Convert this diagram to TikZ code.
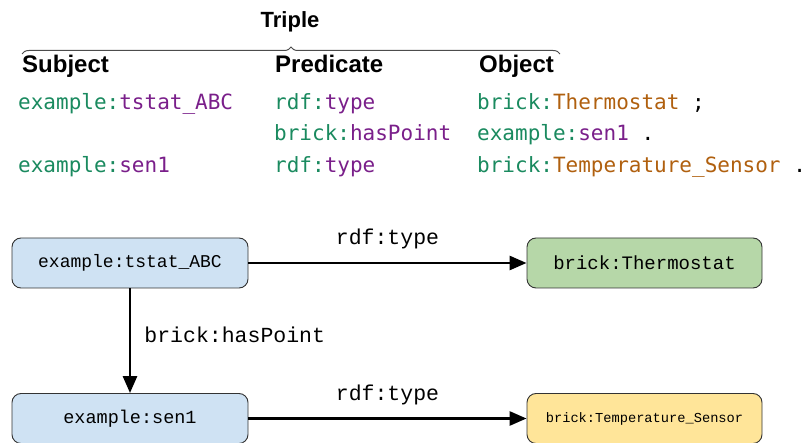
\documentclass[tikz,border=0pt]{standalone}
\usepackage{fontspec}
\setmainfont{Liberation Sans}
\newfontfamily\codefont{DejaVu Sans Mono}
\newfontfamily\courfont{Liberation Mono}
\usetikzlibrary{arrows.meta,decorations.pathreplacing}
\definecolor{cgreen}{HTML}{1A8A5F}
\definecolor{cpurple}{HTML}{7A1F8A}
\definecolor{cbrown}{HTML}{B0600F}
\definecolor{fblue}{HTML}{CFE2F3}
\definecolor{fgreen}{HTML}{B6D7A8}
\definecolor{fyellow}{HTML}{FFE599}
\tikzset{
  hdr/.style={anchor=base west,inner sep=0pt,font=\fontsize{24}{28}\selectfont\bfseries},
  code/.style={anchor=base west,inner sep=0pt,font=\fontsize{21}{24}\selectfont\codefont},
  box/.style={draw=black!80,line width=0.9pt,rounded corners=9pt,minimum width=236pt,minimum height=50pt,inner sep=0pt},
  lbl/.style={inner sep=0pt,font=\fontsize{21.5}{24}\selectfont\courfont},
  conn/.style={line width=2.8pt,-{Triangle[length=17pt,width=14pt]}}
}
\begin{document}
\begin{tikzpicture}[x=1pt,y=-1pt]
\useasboundingbox (0,0) rectangle (806,443);
% brace
\draw[black!70,line width=1pt,decorate,decoration={brace,amplitude=7pt,raise=0pt}] (22,54) -- (560,54);
\node[anchor=base,inner sep=0pt,font=\fontsize{22}{26}\selectfont\bfseries] (trip) at (290,28) {Triple};
\node[hdr] (hs) at (22,73) {Subject};
\node[hdr] (hp) at (275,73) {Predicate};
\node[hdr] (ho) at (479,73) {Object};
% code rows
\node[code] (r1a) at (18,110) {\textcolor{cgreen}{example:}\textcolor{cpurple}{tstat\_ABC}};
\node[code] (r1b) at (274,110) {\textcolor{cgreen}{rdf:}\textcolor{cpurple}{type}};
\node[code] (r1c) at (477,110) {\textcolor{cgreen}{brick:}\textcolor{cbrown}{Thermostat} ;};
\node[code] (r2b) at (274,141) {\textcolor{cgreen}{brick:}\textcolor{cpurple}{hasPoint}};
\node[code] (r2c) at (477,141) {\textcolor{cgreen}{example:}\textcolor{cpurple}{sen1} .};
\node[code] (r3a) at (18,173) {\textcolor{cgreen}{example:}\textcolor{cpurple}{sen1}};
\node[code] (r3b) at (274,173) {\textcolor{cgreen}{rdf:}\textcolor{cpurple}{type}};
\node[code] (r3c) at (477,173) {\textcolor{cgreen}{brick:}\textcolor{cbrown}{Temperature\_Sensor} .};
% graph
\node[box,fill=fblue,font=\fontsize{18}{20}\selectfont\courfont] (tstat) at (130,263) {example:tstat\_ABC};
\node[box,fill=fgreen,minimum width=235pt,font=\fontsize{19}{21}\selectfont\courfont] (thermo) at (644.5,263) {brick:Thermostat};
\node[box,fill=fblue,font=\fontsize{18.5}{21}\selectfont\courfont] (sen) at (130,418.5) {example:sen1};
\node[box,fill=fyellow,minimum width=235pt,font=\fontsize{13.7}{16}\selectfont\courfont] (temp) at (644.5,418.5) {brick:Temperature\_Sensor};
\draw[conn] (tstat) -- (thermo) node[lbl,midway,above=13pt] (l1) {rdf:type};
\draw[conn] (sen) -- (temp) node[lbl,midway,above=12pt] (l2) {rdf:type};
\draw[conn] (tstat) -- (sen) node[lbl,midway,right=13pt,anchor=west,yshift=6pt] (l3) {brick:hasPoint};
\end{tikzpicture}
\end{document}
